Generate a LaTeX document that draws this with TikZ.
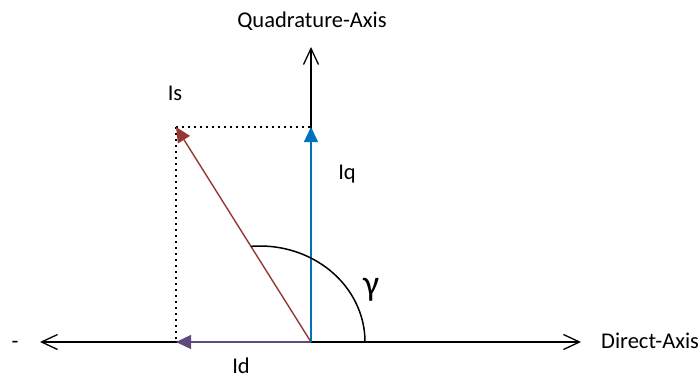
\documentclass[tikz,border=0pt]{standalone}
\usepackage{fontspec}
\setmainfont{Carlito}
\usetikzlibrary{arrows.meta,positioning}
\definecolor{IqBlue}{RGB}{0,112,192}
\definecolor{IsRed}{RGB}{149,55,53}
\definecolor{IdPurple}{RGB}{96,74,123}

\begin{document}
\begin{tikzpicture}[
    x=1bp, y=1bp,
    axis/.style={
      {Straight Barb[length=16bp, width=15bp]}-{Straight Barb[length=16bp, width=15bp]},
      line width=1.3bp
    },
    halfaxis/.style={
      -{Straight Barb[length=16bp, width=15bp]},
      line width=1.3bp
    },
    vec/.style={
      -{Triangle[length=15bp, width=14bp]},
      line width=1.4bp
    },
    proj/.style={
      line width=1.5bp,
      dash pattern=on 1.5bp off 4.5bp
    },
    lbl/.style={
      font=\fontsize{22.6}{26}\selectfont,
      inner sep=0pt,
      anchor=base
    }
  ]
    \useasboundingbox (0,0) rectangle (700,379);

    \coordinate (O) at (311,37);
    \coordinate (dleft) at (40,37);
    \coordinate (dright) at (581,37);
    \coordinate (qtop) at (311,332);
    \coordinate (iqtip) at (311,252);
    \coordinate (istip) at (176,252);
    \coordinate (idtip) at (176,37);
    \coordinate (arcstart) at (365,37);

    % axes
    \draw[axis] (dleft) -- (dright);
    \draw[halfaxis] (O) -- (qtop);

    % projections
    \draw[proj] (istip) -- (iqtip);
    \draw[proj] (istip) -- (idtip);

    % current vectors
    \draw[vec, IsRed] (O) -- (istip);
    \draw[vec, IqBlue] (O) -- (iqtip);
    \draw[vec, IdPurple] (O) -- (idtip);

    \draw[line width=1.5bp] (arcstart) arc[start angle=0, end angle=95, x radius=105, y radius=96];

    \node[lbl] (qlabel) at (312,352) {Quadrature-Axis};
    \node[lbl, anchor=base west] (dlabel) at (601,31) {Direct-Axis};
    \node[lbl] (neg) at (15,31) {-};
    \node[lbl] (islabel) at (175,279) {Is};
    \node[lbl] (iqlabel) at (347,200) {Iq};
    \node[lbl] (idlabel) at (241,6) {Id};
    \node[font=\fontsize{36}{40}\selectfont, inner sep=0pt] (gamma) at (371,89) {γ};
\end{tikzpicture}
\end{document}
